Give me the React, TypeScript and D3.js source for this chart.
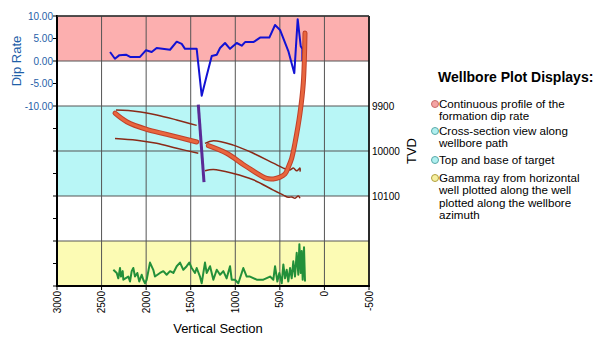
import React from "react";
import * as d3 from "d3";

// ---- data ----
const vsTicks = [3000, 2500, 2000, 1500, 1000, 500, 0, -500];
const dipTicks = [10, 5, 0, -5, -10];
const tvdTicks = [9900, 10000, 10100];

// Dip rate (VS, dip)
const dipVS = [2405, 2350, 2300, 2226, 2180, 2069, 2001, 1938, 1882, 1732, 1657, 1601, 1564, 1433, 1377, 1321, 1264, 1208, 1171, 1115, 1059, 984, 928, 890, 797, 722, 618, 554, 498, 405, 338, 300, 266, 248, 248];
const dipVal = [2.0, 0.5, 1.3, 1.4, 0.9, 0.9, 2.4, 2.0, 2.9, 2.5, 4.3, 3.8, 2.7, 2.7, -7.7, -3.3, 1.1, 1.4, 2.9, 4.0, 2.7, 4.0, 3.4, 4.2, 4.2, 5.2, 5.2, 8.0, 6.9, 2.2, -2.7, 9.3, 3.3, 2.7, 0.0];

// Wellbore path (VS, TVD)
const wellLeftVS = [2349, 2218, 1994, 1770, 1433];
const wellLeftTVD = [9916, 9935, 9952, 9963, 9980];
const wellRightVS = [1302, 1097, 872, 647, 573, 498, 442, 405, 367, 330, 274, 237, 218];
const wellRightTVD = [9988, 10005, 10035, 10061, 10062, 10058, 10051, 10036, 10016, 9982, 9916, 9849, 9738];

// Top of target
const topLeftVS = [2338, 2106, 1882, 1657, 1433];
const topLeftTVD = [9909, 9912, 9920, 9931, 9943];
const topRightVS = [1340, 1246, 1022, 798, 573, 461, 386, 349, 311, 274, 274];
const topRightTVD = [9983, 9977, 9987, 10005, 10027, 10038, 10042, 10038, 10044, 10038, 10046];

// Base of target
const baseLeftVS = [2349, 2106, 1882, 1657, 1415];
const baseLeftTVD = [9972, 9976, 9983, 9994, 10005];
const baseRightVS = [1340, 1246, 1022, 798, 573, 461, 405, 367, 330, 293, 274];
const baseRightTVD = [10044, 10041, 10050, 10064, 10087, 10098, 10103, 10102, 10105, 10100, 10105];

// Fault
const faultVS = [1415, 1351];
const faultTVD = [9897, 10069];

// Gamma ray (VS, API-like units)
const gammaVS = [2368, 2330, 2312, 2293, 2282, 2263, 2256, 2200, 2181, 2162, 2144, 2125, 2099, 2077, 2050, 2032, 2013, 1994, 1957, 1920, 1901, 1845, 1807, 1770, 1732, 1695, 1657, 1620, 1583, 1545, 1516, 1489, 1452, 1433, 1396, 1377, 1340, 1321, 1283, 1246, 1208, 1171, 1134, 1097, 1059, 1040, 1003, 966, 928, 910, 872, 835, 760, 685, 610, 573, 554, 528, 506, 479, 461, 442, 423, 405, 386, 367, 349, 330, 311, 293, 281, 266, 255, 244, 229, 218];
const gammaVal = [36, 29, 17, 40, 21, 33, 14, 21, 10, 33, 40, 21, 29, 10, 25, 14, 6, 14, 52, 36, 21, 29, 33, 25, 33, 29, 44, 52, 36, 44, 52, 40, 29, 40, 21, 6, 52, 29, 44, 14, 36, 25, 33, 17, 44, 14, 14, 6, 29, 40, 21, 21, 14, 14, 21, 14, 44, 10, 29, 6, 48, 17, 36, 10, 40, 17, 55, 21, 74, 25, 93, 29, 78, 14, 86, 10];

const legendTitle = "Wellbore Plot Displays:";
const legendItems = [
  { lines: ["Continuous profile of the", "formation dip rate"], fill: "#f4a3a3", stroke: "#c86a6a" },
  { lines: ["Cross-section view along", "wellbore path"], fill: "#b0f0f0", stroke: "#5aa8a8" },
  { lines: ["Top and base of target"], fill: "#b0f0f0", stroke: "#5aa8a8" },
  { lines: ["Gamma ray from horizontal", "well plotted along the well", "plotted along the wellbore", "azimuth"], fill: "#f6f0a0", stroke: "#b0a040" },
];

const FONT = "Liberation Sans, Arial, Helvetica, sans-serif";

export default function App() {
  const L = 57, R = 369, T = 16, B = 286;
  const x = d3.scaleLinear().domain([3000, -500]).range([L, R]);
  const yTvd = d3.scaleLinear().domain([9700, 10300]).range([T, B]);
  const yDip = d3.scaleLinear().domain([10, -10]).range([yTvd(9700), yTvd(9900)]);
  const yGam = d3.scaleLinear().domain([0, 100]).range([yTvd(10300), yTvd(10200)]);

  const tvdLine = (vs: number[], tvd: number[]) =>
    d3.line<number>().x((_, i) => x(vs[i])).y((_, i) => yTvd(tvd[i])).curve(d3.curveCatmullRom.alpha(0.5))(vs.map((_, i) => i)) || "";
  const dipPath = d3.line<number>().x((_, i) => x(dipVS[i])).y((_, i) => yDip(dipVal[i]))(dipVS.map((_, i) => i)) || "";
  const gamPath = d3.line<number>().x((_, i) => x(gammaVS[i])).y((_, i) => yGam(gammaVal[i]))(gammaVS.map((_, i) => i)) || "";
  const faultPath = d3.line<number>().x((_, i) => x(faultVS[i])).y((_, i) => yTvd(faultTVD[i]))([0, 1]) || "";

  const leftTicks = d3.range(9700, 10301, 50);
  const hGrid = [9700, 9900, 10000, 10100, 10200, 10300];
  const dipZeroY = yDip(0);

  const lgX = 435;
  const lgY = [104, 131, 160, 178];
  const lineH = 12.3;

  return (
    <svg width={600} height={350} style={{ position: "absolute", left: 0, top: 0 }} fontFamily={FONT}>
      <rect x={0} y={0} width={600} height={350} fill="#fff" />
      {/* bands */}
      <rect x={L} y={yDip(10)} width={R - L} height={dipZeroY - yDip(10)} fill="#fcafaf" />
      <rect x={L} y={yTvd(9900)} width={R - L} height={yTvd(10100) - yTvd(9900)} fill="#b8f6f6" />
      <rect x={L} y={yTvd(10200)} width={R - L} height={yTvd(10300) - yTvd(10200)} fill="#fcfbb4" />
      {/* grid */}
      {vsTicks.map((v) => (
        <line key={"vg" + v} x1={x(v)} x2={x(v)} y1={T} y2={B} stroke="#555" strokeWidth={1} />
      ))}
      {hGrid.map((t) => (
        <line key={"hg" + t} x1={L} x2={R} y1={yTvd(t)} y2={yTvd(t)} stroke="#555" strokeWidth={1} />
      ))}
      <line x1={L} x2={R} y1={dipZeroY} y2={dipZeroY} stroke="#555" strokeWidth={1} />
      {/* frame */}
      <line x1={L} x2={L} y1={T - 1} y2={B + 1} stroke="#000" strokeWidth={2} />
      <line x1={L - 1} x2={R + 1} y1={B} y2={B} stroke="#000" strokeWidth={2} />
      <line x1={R} x2={R} y1={T} y2={B} stroke="#000" strokeWidth={1.5} />
      <line x1={L} x2={R} y1={T} y2={T} stroke="#333" strokeWidth={1.5} />
      {/* left ticks */}
      {leftTicks.map((t) => (
        <line key={"lt" + t} x1={L - 4} x2={L} y1={yTvd(t)} y2={yTvd(t)} stroke="#000" strokeWidth={1} />
      ))}
      {dipTicks.map((d) => (
        <text key={"dl" + d} x={L - 4} y={yDip(d)} dy="0.35em" textAnchor="end" fontSize={10} fill="#1f5fa8">
          {d.toFixed(2)}
        </text>
      ))}
      <text transform={`translate(21,${yDip(0)}) rotate(-90)`} textAnchor="middle" fontSize={13} fill="#1f5fa8">
        Dip Rate
      </text>
      {/* right TVD labels */}
      {tvdTicks.map((t) => (
        <text key={"tv" + t} x={R + 3} y={yTvd(t)} dy="0.35em" fontSize={10} fill="#000">
          {t}
        </text>
      ))}
      <text transform={`translate(416,${yTvd(10000)}) rotate(-90)`} textAnchor="middle" fontSize={13} fill="#000">
        TVD
      </text>
      {/* bottom ticks */}
      {vsTicks.map((v) => (
        <g key={"xt" + v}>
          <line x1={x(v)} x2={x(v)} y1={B} y2={B + 4} stroke="#000" />
          <text transform={`translate(${x(v)},${B + 5}) rotate(-90)`} textAnchor="end" dy="0.35em" fontSize={10} fill="#000">
            {v}
          </text>
        </g>
      ))}
      <text x={(L + R) / 2 + 5} y={333} textAnchor="middle" fontSize={13} fill="#000">
        Vertical Section
      </text>
      {/* data */}
      <path d={dipPath} fill="none" stroke="#1212d4" strokeWidth={2} strokeLinejoin="round" />
      <path d={tvdLine(topLeftVS, topLeftTVD)} fill="none" stroke="#8a2a18" strokeWidth={1.5} />
      <path d={tvdLine(topRightVS, topRightTVD)} fill="none" stroke="#8a2a18" strokeWidth={1.5} />
      <path d={tvdLine(baseLeftVS, baseLeftTVD)} fill="none" stroke="#8a2a18" strokeWidth={1.5} />
      <path d={tvdLine(baseRightVS, baseRightTVD)} fill="none" stroke="#8a2a18" strokeWidth={1.5} />
      <path d={tvdLine(wellLeftVS, wellLeftTVD)} fill="none" stroke="#c0402a" strokeWidth={5} strokeLinecap="round" />
      <path d={tvdLine(wellLeftVS, wellLeftTVD)} fill="none" stroke="#e8663e" strokeWidth={3} strokeLinecap="round" />
      <path d={tvdLine(wellRightVS, wellRightTVD)} fill="none" stroke="#c0402a" strokeWidth={5} strokeLinecap="round" />
      <path d={tvdLine(wellRightVS, wellRightTVD)} fill="none" stroke="#e8663e" strokeWidth={3} strokeLinecap="round" />
      <path d={faultPath} fill="none" stroke="#5a2a96" strokeWidth={3} />
      <path d={gamPath} fill="none" stroke="#23903a" strokeWidth={2} strokeLinejoin="round" />
      {/* legend */}
      <text x={438} y={82} fontSize={14} fontWeight="bold" fill="#000">
        {legendTitle}
      </text>
      {legendItems.map((it, i) => (
        <g key={"lg" + i}>
          <circle cx={lgX} cy={lgY[i]} r={3.5} fill={it.fill} stroke={it.stroke} strokeWidth={1} />
          {it.lines.map((ln, j) => (
            <text key={j} x={lgX + 4} y={lgY[i] + j * lineH} dy="0.35em" fontSize={11.6} fill="#000">
              {ln}
            </text>
          ))}
        </g>
      ))}
    </svg>
  );
}
